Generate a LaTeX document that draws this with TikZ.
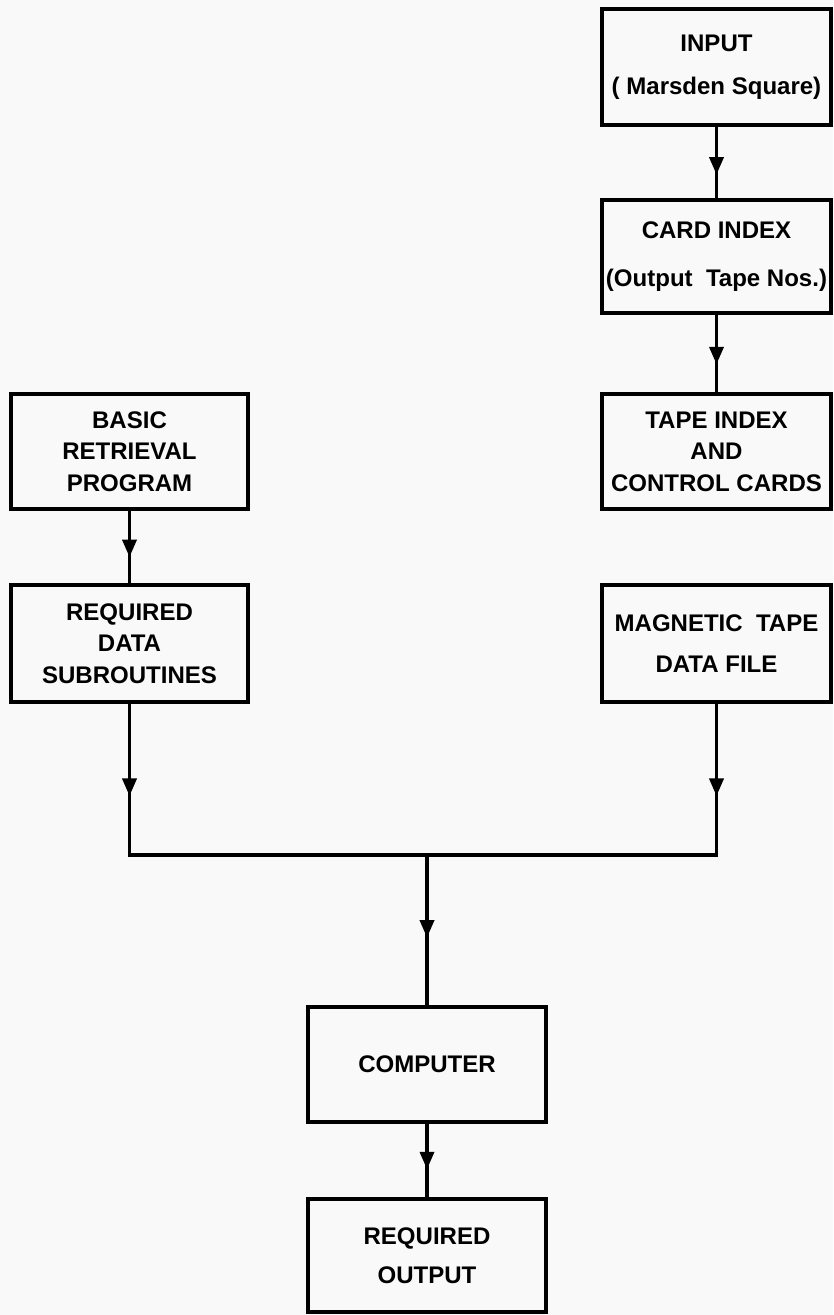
\documentclass[tikz,border=0pt]{standalone}
\usepackage{fontspec}
\setmainfont{Liberation Sans}
\usetikzlibrary{arrows.meta,decorations.markings}

\begin{document}
\begin{tikzpicture}[x=0.03cm,y=-0.03cm,
  box/.style={draw,line width=3pt,align=center,inner sep=0pt,
    font=\fontsize{20.5}{27}\selectfont\bfseries},
  flow/.style={line width=3pt,decoration={markings,
    mark=at position #1 with {\arrow{Triangle[length=15pt,width=12pt]}}},
    postaction={decorate}}]
\fill[gray!5](0,0)rectangle(833,1315);
\useasboundingbox(0,0)rectangle(833,1315);
% right column
\node[box,minimum width=229*0.03cm,minimum height=116*0.03cm](input) at (716.5,67)
  {INPUT\\[10pt]( Marsden Square)};
\node[box,minimum width=229*0.03cm,minimum height=113*0.03cm](card) at (716.5,256.5)
  {CARD INDEX\\[14pt](Output\ \ Tape Nos.)};
\node[box,minimum width=229*0.03cm,minimum height=115*0.03cm](tape) at (716.5,451.5)
  {TAPE INDEX\\AND\\CONTROL CARDS};
\node[box,minimum width=229*0.03cm,minimum height=117*0.03cm](mag) at (716.5,643.5)
  {MAGNETIC\ \ TAPE\\[8pt]DATA\ FILE};
% left column
\node[box,minimum width=237*0.03cm,minimum height=115*0.03cm](basic) at (129.5,451.5)
  {BASIC\\RETRIEVAL\\PROGRAM};
\node[box,minimum width=237*0.03cm,minimum height=117*0.03cm](subr) at (129.5,643.5)
  {REQUIRED\\DATA\\SUBROUTINES};
% bottom
\node[box,minimum width=238*0.03cm,minimum height=115*0.03cm](comp) at (427,1064.5)
  {COMPUTER};
\node[box,minimum width=238*0.03cm,minimum height=113*0.03cm](output) at (427,1255.5)
  {REQUIRED\\[6pt]OUTPUT};
\coordinate(j) at (427,855);
% connectors
\draw[flow=0.67](input)--(card);
\draw[flow=0.64](card)--(tape);
\draw[flow=0.64](basic)--(subr);
\draw[line width=3pt,line join=miter](subr.south)--(subr.south|-j)--(mag.south|-j)--(mag.south);
\draw[flow=0.61](subr.south)--(subr.south|-j);
\draw[flow=0.61](mag.south)--(mag.south|-j);
\draw[flow=0.55](j)--(comp);
\draw[flow=0.62](comp)--(output);
\end{tikzpicture}
\end{document}
